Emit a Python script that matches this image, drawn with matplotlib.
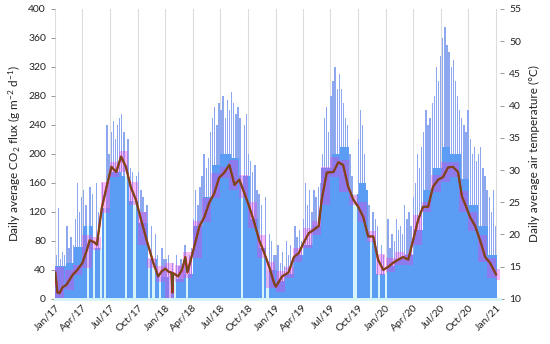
import numpy as np
import pandas as pd
import matplotlib
matplotlib.use('Agg')
import matplotlib.pyplot as plt
import matplotlib.dates as mdates

plt.rcParams['font.family'] = ['Lato', 'DejaVu Sans']
plt.rcParams['mathtext.default'] = 'regular'

# weekly peak CO2 flux (g m-2 d-1), 0 = no data; weeks start 2017-01-01
peak_2017 = [60, 125, 55, 65, 60, 100, 70, 85, 75, 110, 160, 120, 140,
             150, 130, 0, 155, 145, 0, 160, 120, 0, 160, 0, 240, 200,
             230, 245, 220, 240, 250, 255, 230, 0, 220, 180, 175, 0, 170,
             175, 150, 140, 120, 130, 0, 100, 0, 90, 60, 0, 70, 55]
peak_2018 = [55, 60, 0, 50, 0, 60, 45, 55, 40, 75, 0, 60, 70,
             110, 150, 130, 155, 170, 200, 180, 195, 230, 250, 265, 240, 270,
             260, 280, 250, 275, 260, 285, 270, 255, 265, 250, 0, 240, 255,
             200, 190, 175, 185, 150, 145, 130, 0, 140, 0, 90, 80, 60]
peak_2019 = [60, 75, 50, 65, 45, 80, 60, 75, 55, 100, 85, 95, 80,
             110, 160, 130, 150, 120, 150, 140, 155, 160, 200, 250, 265, 230,
             280, 300, 320, 290, 310, 290, 270, 250, 240, 200, 170, 0, 0,
             220, 260, 240, 200, 150, 130, 0, 120, 110, 100, 0, 75, 60]
peak_2020 = [0, 110, 70, 90, 80, 110, 95, 100, 90, 130, 110, 120, 100,
             140, 160, 200, 180, 210, 230, 260, 240, 250, 270, 280, 320, 300,
             335, 360, 375, 350, 340, 320, 330, 300, 280, 260, 250, 240, 230,
             260, 220, 200, 210, 190, 200, 210, 180, 170, 150, 140, 120, 150,
             100]

# monthly base level of the daily flux bars
base_monthly = [45, 50, 72, 100, 70, 125, 175, 170, 135, 105, 55, 30,
                30, 28, 35, 100, 140, 185, 200, 195, 170, 110, 70, 40,
                25, 35, 60, 75, 100, 180, 200, 210, 145, 160, 80, 35,
                45, 55, 60, 95, 150, 180, 210, 200, 165, 130, 100, 60]

# daily average air temperature (deg C)
temp_dates = ['2017-01-01', '2017-01-08', '2017-01-15', '2017-01-25', '2017-02-07',
              '2017-02-27', '2017-03-15', '2017-04-01', '2017-04-15', '2017-04-25',
              '2017-05-10', '2017-05-19', '2017-06-04', '2017-06-20', '2017-07-06',
              '2017-07-22', '2017-08-07', '2017-08-23', '2017-09-08', '2017-09-25',
              '2017-10-10', '2017-10-31', '2017-11-22', '2017-12-08', '2017-12-20',
              '2018-01-01', '2018-01-12', '2018-01-21', '2018-01-24', '2018-01-27',
              '2018-02-12', '2018-02-25', '2018-03-08', '2018-03-15', '2018-04-01',
              '2018-04-24', '2018-05-10', '2018-05-26', '2018-06-12', '2018-06-28',
              '2018-07-15', '2018-08-01', '2018-08-18', '2018-09-03', '2018-09-20',
              '2018-10-06', '2018-10-23', '2018-11-08', '2018-11-25', '2018-12-11',
              '2018-12-27', '2019-01-02', '2019-01-23', '2019-02-13', '2019-03-03',
              '2019-03-19', '2019-04-04', '2019-04-21', '2019-05-07', '2019-05-24',
              '2019-06-03', '2019-06-20', '2019-07-12', '2019-07-28', '2019-08-13',
              '2019-08-30', '2019-09-16', '2019-10-02', '2019-10-19', '2019-11-04',
              '2019-11-21', '2019-12-07', '2019-12-24', '2020-01-10', '2020-01-26',
              '2020-02-12', '2020-02-28', '2020-03-16', '2020-04-01', '2020-04-18',
              '2020-05-04', '2020-05-21', '2020-06-06', '2020-06-23', '2020-07-09',
              '2020-07-26', '2020-08-11', '2020-08-28', '2020-09-10', '2020-09-24',
              '2020-10-07', '2020-10-24', '2020-11-09', '2020-11-26', '2020-12-12',
              '2020-12-29', '2021-01-01']
temp_values = [14.1, 11.0, 10.9, 11.8, 12.2, 13.7, 14.5, 15.6, 17.5, 19.1,
               18.8, 18.4, 24.1, 27.4, 30.5, 29.7, 32.1, 30.5, 27.4, 25.4,
               22.7, 19.1, 15.6, 13.5, 14.3, 14.7, 14.2, 14.1, 11.0, 14.0,
               13.5, 14.5, 16.5, 14.1, 17.1, 21.3, 22.7, 24.9, 26.4, 28.8,
               29.6, 30.8, 27.7, 28.5, 26.4, 24.3, 21.8, 19.1, 17.1, 15.0,
               12.5, 11.9, 13.5, 14.1, 16.5, 17.1, 18.7, 20.2, 20.7, 21.3,
               25.4, 29.6, 29.7, 31.2, 30.8, 27.4, 25.4, 24.3, 22.7, 19.7,
               19.7, 16.1, 14.5, 15.0, 15.6, 16.1, 16.5, 16.1, 19.1, 22.3,
               24.3, 24.3, 27.4, 28.5, 28.9, 30.4, 30.5, 29.7, 25.9, 24.3,
               22.7, 21.3, 19.1, 16.5, 15.6, 14.1, 13.8]

peaks = np.array(peak_2017 + peak_2018 + peak_2019 + peak_2020, dtype=float)
weeks = pd.date_range('2017-01-01', periods=len(peaks), freq='7D')
month_idx = (weeks.year - 2017) * 12 + weeks.month - 1
base = np.array(base_monthly, dtype=float)[month_idx]

tdates = pd.to_datetime(temp_dates)
temps = np.array(temp_values)

fig = plt.figure(figsize=(5.5, 3.44), dpi=100)
ax = fig.add_axes([0.1, 0.131, 0.809, 0.843])
ax2 = ax.twinx()

gap = peaks == 0
mid = weeks + pd.Timedelta(days=3.5)
# gaps in the record
ax.bar(mid[gap], base[gap], width=7, color='#d6f3f7', linewidth=0, zorder=1)
# daily spikes
ax.bar(mid[~gap], peaks[~gap], width=4.5, color='#8ea8f0', linewidth=0, zorder=1.5)
# solid body of the daily bars
ax.bar(mid[~gap], np.minimum(base, peaks)[~gap], width=7.2,
       color='#5b9df5', linewidth=0, zorder=2)

# monthly temperature range blocks
tser = pd.Series(temps, index=tdates)
mon = tser.resample('MS')
tmin = mon.min().interpolate()
tmax = mon.max().interpolate()
ax2.bar(tmin.index + pd.Timedelta(days=15), (tmax - tmin + 1.6).values,
        bottom=(tmin - 0.8).values, width=30, color='#e83ce0', alpha=0.35,
        linewidth=0, zorder=1)

ax2.plot(tdates, temps, color='#e8101a', lw=1.6, zorder=2)
ax2.plot(tdates, temps, color='#66501e', lw=1.2, zorder=3)

ax.set_ylim(0, 400)
ax.set_yticks(np.arange(0, 401, 40))
ax2.set_ylim(10, 55)
ax2.set_yticks(np.arange(10, 56, 5))
ax.set_xlim(pd.Timestamp('2016-12-31'), pd.Timestamp('2021-01-14'))

ax.xaxis.set_major_locator(mdates.MonthLocator(bymonth=[1, 4, 7, 10]))
ax.xaxis.set_major_formatter(mdates.DateFormatter('%b/%y'))
ax.grid(axis='x', color='#dcdcdc', lw=0.8)
ax.set_axisbelow(True)

for a in (ax, ax2):
    for s in ('top', 'left', 'right'):
        a.spines[s].set_visible(False)
    a.spines['bottom'].set_color('#d6f3f7')
    a.spines['bottom'].set_linewidth(2)
    a.tick_params(colors='#888888', labelcolor='#222222', labelsize=7.5,
                  length=3, width=0.6)
ax.tick_params(axis='x', length=0, pad=3)
plt.setp(ax.get_xticklabels(), rotation=45, ha='right', rotation_mode='anchor')

ax.set_ylabel('Daily average CO$_2$ flux (g m$^{-2}$ d$^{-1}$)', fontsize=8.5,
              color='#222222', labelpad=4)
ax2.set_ylabel('Daily average air temperature (°C)', fontsize=8.5,
               color='#222222', labelpad=6)

fig.savefig('out.png', dpi=100)
